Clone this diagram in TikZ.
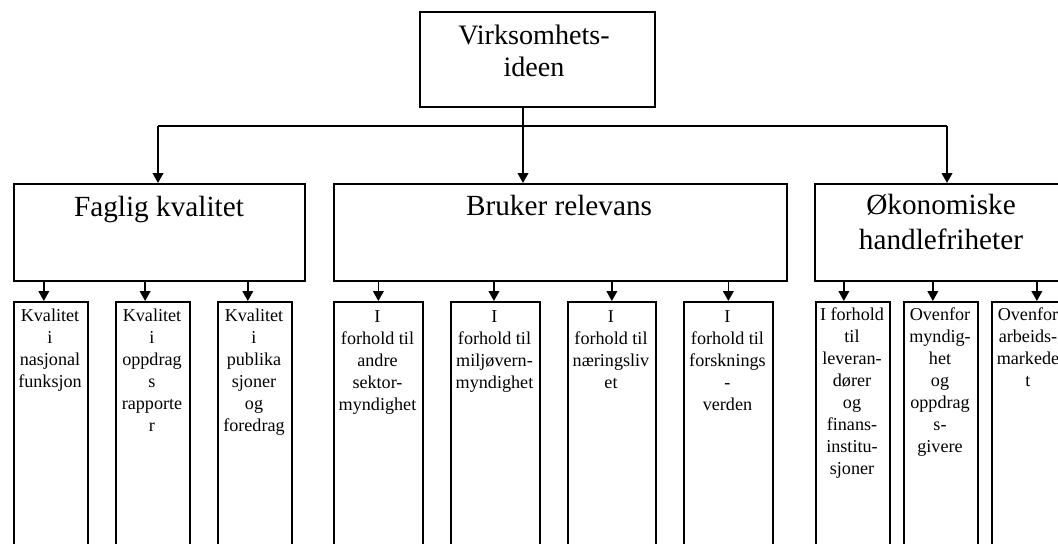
\documentclass[tikz,border=0pt]{standalone}
\usepackage{fontspec}
\setmainfont{Liberation Serif}
\usetikzlibrary{arrows.meta}

\tikzset{
  frame/.style={draw, line width=1.2pt, inner sep=0pt},
  areabox/.style={frame, anchor=north west, minimum height=2.425cm},
  subbox/.style={frame, anchor=north west, minimum height=7cm},
  headtext/.style={anchor=base, align=center, inner sep=0pt, font=\fontsize{20.8}{25.6}\selectfont},
  subtext/.style={anchor=base, align=center, inner sep=0pt, font=\fontsize{12.9}{15.6}\selectfont},
  link/.style={line width=1.2pt},
  arr/.style={link, -{Triangle[length=7pt, width=7.5pt]}}
}

\begin{document}
\begin{tikzpicture}[x=0.025cm, y=-0.025cm]
		%%%%% START %%%%%
		\clip (0,0) rectangle (1058,544);
		
		% top box (text nodes sit on the baseline of their last line)
		\node[frame, minimum width=5.875cm, minimum height=2.375cm] (idea) at (537.5,59.5) {};
		\node[headtext, font=\fontsize{20}{22.8}\selectfont] (ideaT) at (534,77) {Virksomhets-\\ideen};
		
		% second level
		\node[areabox, minimum width=7.275cm] (fag) at (13,183) {};
		\node[headtext] (fagT) at (159,217) {Faglig kvalitet};
		\node[areabox, minimum width=11.325cm] (bru) at (333,183) {};
		\node[headtext] (bruT) at (559,216) {Bruker relevans};
		\node[areabox, minimum width=6.65cm] (oko) at (814,183) {};
		\node[headtext] (okoT) at (941,250) {Økonomiske\\handlefriheter};
		
		\coordinate (hubL) at (158,126);
		\coordinate (hub) at (523,126);
		\coordinate (hubR) at (947,126);
		\draw[link] (idea.south -| hub) -- (hub);
		\draw[link] (hubL) -- (hubR);
		\draw[arr] (hubL) -- (hubL |- fag.north);
		\draw[arr] (hub) -- (hub |- bru.north);
		\draw[arr] (hubR) -- (hubR |- oko.north);
		
		% third level, faglig kvalitet
		\node[subbox, minimum width=1.85cm] (f1) at (13,301) {};
		\node[subtext] (f1T) at (50,387.8) {Kvalitet\\i\\nasjonal\\funksjon};
		\node[subbox, minimum width=1.85cm] (f2) at (115,301) {};
		\node[subtext] (f2T) at (152,431.6) {Kvalitet\\i\\oppdrag\\s\\rapporte\\r};
		\node[subbox, minimum width=1.85cm] (f3) at (217,301) {};
		\node[subtext] (f3T) at (254,431.6) {Kvalitet\\i\\publika\\sjoner\\og\\foredrag};
		
		\draw[arr] ([xshift=-5pt]f1.north |- fag.south) -- ([xshift=-5pt]f1.north);
		\draw[arr] ([xshift=-5.5pt]f2.north |- fag.south) -- ([xshift=-5.5pt]f2.north);
		\draw[arr] ([xshift=-5pt]f3.north |- fag.south) -- ([xshift=-5pt]f3.north);
		
		% third level, bruker relevans
		\node[subbox, minimum width=2.225cm] (b1) at (333,301) {};
		\node[subtext] (b1T) at (377.5,410.7) {I\\forhold til\\andre\\sektor-\\myndighet};
		\node[subbox, minimum width=2.225cm] (b2) at (450,301) {};
		\node[subtext] (b2T) at (494.5,388.8) {I\\forhold til\\miljøvern-\\myndighet};
		\node[subbox, minimum width=2.2cm] (b3) at (567,301) {};
		\node[subtext] (b3T) at (611,388.8) {I\\forhold til\\næringsliv\\et};
		\node[subbox, minimum width=2.225cm] (b4) at (683,301) {};
		\node[subtext] (b4T) at (727.5,410.7) {I\\forhold til\\forsknings\\-\\verden};
		
		\draw[arr] (b1.north |- bru.south) -- (b1.north);
		\draw[arr] ([xshift=-1pt]b2.north |- bru.south) -- ([xshift=-1pt]b2.north);
		\draw[arr] (b3.north |- bru.south) -- (b3.north);
		\draw[arr] (b4.north |- bru.south) -- (b4.north);
		
		% third level, okonomiske
		\node[subbox, minimum width=1.85cm] (o1) at (815,301) {};
		\node[subtext] (o1T) at (852,474.5) {I forhold\\til\\leveran-\\dører\\og\\finans-\\institu-\\sjoner};
		\node[subbox, minimum width=1.85cm] (o2) at (903,301) {};
		\node[subtext] (o2T) at (940,452.6) {Ovenfor\\myndig-\\het\\og\\oppdrag\\s-\\givere};
		\node[subbox, minimum width=1.85cm] (o3) at (991,301) {};
		\node[subtext] (o3T) at (1028,386.8) {Ovenfor\\arbeids-\\markede\\t};
		
		\draw[arr] ([xshift=-6.4pt]o1.north |- oko.south) -- ([xshift=-6.4pt]o1.north);
		\draw[arr] ([xshift=-5.7pt]o2.north |- oko.south) -- ([xshift=-5.7pt]o2.north);
		\draw[arr] ([xshift=5.7pt]o3.north |- oko.south) -- ([xshift=5.7pt]o3.north);
		
		%%%%% END %%%%%
\end{tikzpicture}
\end{document}
